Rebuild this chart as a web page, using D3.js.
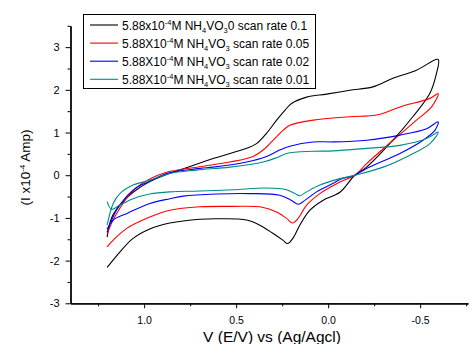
<!DOCTYPE html>
<html>
<head>
<meta charset="utf-8">
<script src="https://cdn.jsdelivr.net/npm/d3@7"></script>
<style>
  html, body { margin: 0; padding: 0; background: #fff; }
  svg { display: block; font-family: "Liberation Sans", Arial, sans-serif; }
</style>
</head>
<body>
<svg id="chart" width="473" height="344"></svg>
<script>
// ── Data (potential V, current x1e-4 A), forward branch then return branch ──

const rate01 = [
  [1.201, -2.16], [1.132, -1.80], [1.060, -1.48], [0.969, -1.26], [0.860, -1.12],
  [0.697, -1.03], [0.589, -1.02], [0.443, -1.05], [0.371, -1.17], [0.301, -1.36],
  [0.246, -1.52], [0.221, -1.60], [0.192, -1.48], [0.154, -1.17], [0.099, -0.82],
  [0.029, -0.59], [-0.064, -0.40], [-0.145, 0.0], [-0.209, 0.19], [-0.352, 0.82],
  [-0.460, 1.37], [-0.553, 1.92], [-0.589, 2.39], [-0.598, 2.71],
  [-0.480, 2.46], [-0.352, 2.27], [-0.243, 2.07], [-0.118, 1.99], [0.009, 1.90],
  [0.117, 1.83], [0.199, 1.68], [0.235, 1.52], [0.280, 1.29], [0.335, 0.98],
  [0.389, 0.74], [0.443, 0.63], [0.625, 0.39], [0.806, 0.12], [0.878, 0.02],
  [0.969, -0.15], [1.060, -0.40], [1.132, -0.70], [1.177, -1.00], [1.201, -1.45]
];

const rate005 = [
  [1.201, -1.68], [1.168, -1.52], [1.096, -1.25], [0.969, -0.98], [0.860, -0.82],
  [0.697, -0.74], [0.516, -0.73], [0.371, -0.74], [0.280, -0.86], [0.226, -1.01],
  [0.193, -1.12], [0.163, -1.01], [0.117, -0.70], [0.045, -0.43], [-0.064, -0.16],
  [-0.145, 0.0], [-0.209, 0.27], [-0.353, 0.82], [-0.480, 1.29], [-0.562, 1.60],
  [-0.598, 1.91],
  [-0.553, 1.80], [-0.390, 1.60], [-0.263, 1.41], [-0.118, 1.37], [0.082, 1.29],
  [0.208, 1.17], [0.245, 1.05], [0.299, 0.82], [0.353, 0.59], [0.408, 0.44],
  [0.534, 0.31], [0.697, 0.20], [0.878, 0.07], [0.969, -0.09], [1.060, -0.36],
  [1.160, -0.98], [1.201, -1.38]
];

const rate002 = [
  [1.201, -1.26], [1.168, -1.05], [1.096, -0.90], [0.969, -0.66], [0.860, -0.55],
  [0.788, -0.49], [0.607, -0.44], [0.426, -0.43], [0.263, -0.47], [0.199, -0.59],
  [0.163, -0.68], [0.127, -0.59], [0.063, -0.39], [-0.027, -0.19], [-0.064, -0.10],
  [-0.145, 0.0], [-0.209, 0.16], [-0.390, 0.51], [-0.516, 0.82], [-0.580, 1.05],
  [-0.598, 1.25],
  [-0.535, 1.09], [-0.390, 0.94], [-0.209, 0.82], [-0.027, 0.78], [0.082, 0.78],
  [0.208, 0.68], [0.263, 0.59], [0.335, 0.44], [0.443, 0.31], [0.625, 0.19],
  [0.697, 0.16], [0.878, 0.04], [0.969, -0.14], [1.060, -0.35], [1.150, -0.82],
  [1.201, -1.33]
];

const rate001 = [
  [1.201, -0.62], [1.177, -0.80], [1.132, -0.70], [1.060, -0.55], [0.969, -0.44],
  [0.860, -0.39], [0.697, -0.37], [0.516, -0.34], [0.335, -0.30], [0.226, -0.34],
  [0.181, -0.43], [0.154, -0.48], [0.117, -0.39], [0.045, -0.23], [-0.064, -0.08],
  [-0.145, 0.0], [-0.299, 0.19], [-0.444, 0.47], [-0.553, 0.74], [-0.598, 1.01],
  [-0.535, 0.86], [-0.390, 0.70], [-0.209, 0.63], [-0.027, 0.57], [0.082, 0.56],
  [0.226, 0.51], [0.280, 0.41], [0.353, 0.31], [0.534, 0.19], [0.715, 0.12],
  [0.860, 0.04], [0.969, -0.12], [1.060, -0.23], [1.132, -0.43], [1.168, -0.66],
  [1.201, -1.17]
];

const seriesNames = ["0 scan rate 0.1", " scan rate 0.05", " scan rate 0.02", " scan rate 0.01"];
const seriesPrefix = ["5.88x10", "5.88X10", "5.88X10", "5.88X10"];
const seriesData = [rate01, rate005, rate002, rate001];
const seriesColors = ["#000000", "#ff0000", "#0000ff", "#008b8b"];

const xMajorTicks = [1.0, 0.5, 0.0, -0.5];
const xMinorTicks = [1.25, 0.75, 0.25, -0.25, -0.75];
const yMajorTicks = [-3, -2, -1, 0, 1, 2, 3];
const yMinorTicks = [-2.5, -1.5, -0.5, 0.5, 1.5, 2.5, 3.5];

// ── Layout ──────────────────────────────────────────────────────────────

const svg = d3.select("#chart");
const plotLeft = 70.5, plotRight = 468, plotTop = 25.8, plotBottom = 303.3;

const x = d3.scaleLinear().domain([1.4, -0.76]).range([plotLeft, plotRight]);
const y = d3.scaleLinear().domain([-3, 3.5]).range([plotBottom, plotTop]);

// Axes
const xAxisG = svg.append("g").attr("transform", `translate(0,${plotBottom})`)
  .call(d3.axisBottom(x).tickValues(xMajorTicks).tickSize(5).tickSizeOuter(0)
    .tickFormat(d3.format(".1f")).tickPadding(8));
svg.append("g").attr("transform", `translate(0,${plotBottom})`)
  .call(d3.axisBottom(x).tickValues(xMinorTicks).tickSize(3).tickSizeOuter(0).tickFormat(""));

const yAxisG = svg.append("g").attr("transform", `translate(${plotLeft},0)`)
  .call(d3.axisLeft(y).tickValues(yMajorTicks).tickSize(5).tickSizeOuter(0)
    .tickFormat(d3.format("d")).tickPadding(6));
svg.append("g").attr("transform", `translate(${plotLeft},0)`)
  .call(d3.axisLeft(y).tickValues(yMinorTicks).tickSize(3).tickSizeOuter(0).tickFormat(""));

svg.selectAll(".domain").attr("stroke", "#000").attr("stroke-width", 1.3);
svg.selectAll(".tick line").attr("stroke", "#000");
svg.selectAll(".tick text").attr("fill", "#000")
  .text(function () { return d3.select(this).text().replace("−", "-"); });
xAxisG.selectAll(".tick text").style("font-size", "10.5px");
yAxisG.selectAll(".tick text").style("font-size", "11px");

// Axis titles
svg.append("text")
  .attr("x", 272).attr("y", 342)
  .attr("text-anchor", "middle")
  .style("font-size", "15.5px")
  .text("V (E/V) vs (Ag/Agcl)");

const yTitle = svg.append("text")
  .attr("transform", "translate(30,167.5) rotate(-90)")
  .attr("text-anchor", "middle")
  .style("font-size", "13.5px");
yTitle.append("tspan").text("(I x10");
yTitle.append("tspan").attr("dy", -5).style("font-size", "8px").text("-4");
yTitle.append("tspan").attr("dy", 5).text(" Amp)");

// Curves
const line = d3.line()
  .x((d) => x(d[0]))
  .y((d) => y(d[1]))
  .curve(d3.curveCatmullRom.alpha(0.5));

svg.append("g").selectAll("path")
  .data(seriesData)
  .enter().append("path")
  .attr("d", line)
  .attr("fill", "none")
  .attr("stroke", (d, i) => seriesColors[i])
  .attr("stroke-width", 1.1);

// Legend
const legend = svg.append("g");
legend.append("rect")
  .attr("x", 83.5).attr("y", 14.5).attr("width", 232).attr("height", 74)
  .attr("fill", "#fff").attr("stroke", "#000").attr("stroke-width", 1);

seriesNames.forEach((name, i) => {
  const ry = 25 + i * 18.1;
  legend.append("line")
    .attr("x1", 90).attr("x2", 118).attr("y1", ry).attr("y2", ry)
    .attr("stroke", seriesColors[i]).attr("stroke-width", 1.1);
  const t = legend.append("text")
    .attr("x", 122).attr("y", ry + 4.5)
    .style("font-size", "12px");
  t.append("tspan").text(seriesPrefix[i]);
  t.append("tspan").attr("dy", -4.5).style("font-size", "7.5px").text("-4");
  t.append("tspan").attr("dy", 4.5).text("M NH");
  t.append("tspan").attr("dy", 3).style("font-size", "7.5px").text("4");
  t.append("tspan").attr("dy", -3).text("VO");
  t.append("tspan").attr("dy", 3).style("font-size", "7.5px").text("3");
  t.append("tspan").attr("dy", -3).text(name);
});
</script>
</body>
</html>
